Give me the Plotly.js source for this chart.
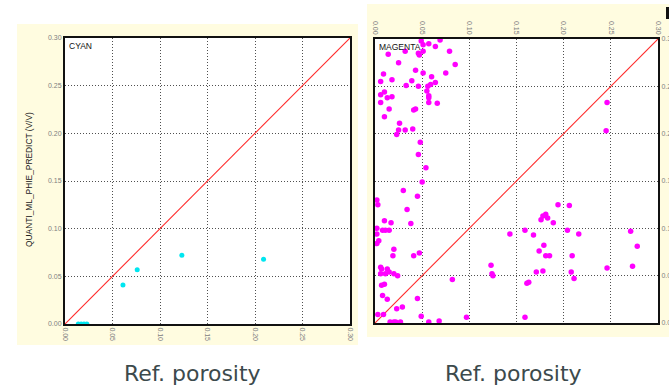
<!DOCTYPE html>
<html>
<head>
<meta charset="utf-8">
<script src="https://cdn.plot.ly/plotly-3.0.1.min.js"></script>
<style>html,body{margin:0;padding:0;background:#fff}#chart{width:669px;height:389px}</style>
</head>
<body>
<div id="chart"></div>
<script>
// ---- data ----
const tickVals = [0, 0.05, 0.10, 0.15, 0.20, 0.25, 0.30];
const tickText = ['0.00', '0.05', '0.10', '0.15', '0.20', '0.25', '0.30'];
const lineX = [0, 0.30];
const lineY = [0, 0.30];

const cyanX = [0.014, 0.017, 0.020, 0.023, 0.061, 0.076, 0.123, 0.209];
const cyanY = [0.000, 0.000, 0.000, 0.000, 0.041, 0.057, 0.072, 0.068];

const magentaX = [0.049, 0.051, 0.057, 0.064, 0.069, 0.079, 0.051, 0.046, 0.047, 0.014,
  0.032, 0.025, 0.085, 0.043, 0.051, 0.075, 0.009, 0.060, 0.018, 0.039,
  0.006, 0.064, 0.059, 0.056, 0.033, 0.046, 0.055, 0.010, 0.006, 0.057,
  0.057, 0.013, 0.018, 0.006, 0.057, 0.066, 0.015, 0.041, 0.043, 0.010,
  0.026, 0.025, 0.032, 0.040, 0.023, 0.048, 0.046, 0.054, 0.050, 0.030,
  0.045, 0.002, 0.003, 0.034, 0.010, 0.017, 0.038, 0.002, 0.008, 0.011,
  0.015, 0.002, 0.004, 0.002, 0.020, 0.019, 0.041, 0.047, 0.006, 0.007,
  0.013, 0.015, 0.006, 0.011, 0.020, 0.024, 0.007, 0.010, 0.082, 0.008,
  0.013, 0.045, 0.029, 0.023, 0.003, 0.009, 0.049, 0.016, 0.020, 0.022,
  0.027, 0.057, 0.068, 0.097, 0.143, 0.123, 0.124, 0.125, 0.194, 0.206,
  0.178, 0.181, 0.183, 0.176, 0.189, 0.159, 0.168, 0.204, 0.216, 0.271,
  0.278, 0.179, 0.174, 0.181, 0.185, 0.209, 0.171, 0.178, 0.208, 0.211,
  0.246, 0.273, 0.161, 0.163, 0.159, 0.246, 0.245];
const magentaY = [0.298, 0.294, 0.295, 0.292, 0.299, 0.287, 0.287, 0.285, 0.283, 0.284,
  0.287, 0.275, 0.273, 0.267, 0.264, 0.264, 0.263, 0.260, 0.257, 0.256,
  0.255, 0.254, 0.252, 0.250, 0.251, 0.250, 0.245, 0.244, 0.241, 0.240,
  0.238, 0.238, 0.239, 0.233, 0.233, 0.232, 0.226, 0.225, 0.226, 0.218,
  0.211, 0.204, 0.204, 0.205, 0.199, 0.191, 0.178, 0.164, 0.149, 0.140,
  0.134, 0.130, 0.125, 0.120, 0.108, 0.106, 0.105, 0.100, 0.098, 0.098,
  0.098, 0.094, 0.087, 0.084, 0.078, 0.071, 0.071, 0.074, 0.059, 0.057,
  0.057, 0.054, 0.052, 0.052, 0.052, 0.050, 0.040, 0.041, 0.046, 0.029,
  0.025, 0.026, 0.017, 0.015, 0.009, 0.009, 0.007, 0.001, 0.001, 0.001,
  0.001, 0.001, 0.002, 0.006, 0.094, 0.061, 0.052, 0.050, 0.125, 0.124,
  0.113, 0.115, 0.111, 0.109, 0.106, 0.098, 0.093, 0.098, 0.094, 0.097,
  0.081, 0.082, 0.076, 0.071, 0.071, 0.071, 0.054, 0.055, 0.054, 0.047,
  0.058, 0.060, 0.042, 0.043, 0.006, 0.233, 0.203];

const panelTitles = ['CYAN', 'MAGENTA'];
const xTitle = 'Ref. porosity';
const yTitle = 'QUANTI_ML_PHIE_PREDICT (V/V)';

// ---- layout helpers (pixel -> paper) ----
const W = 669, H = 389;
const px = v => v / W;
const py = v => 1 - v / H;

const tickFont = {family: 'Liberation Sans, Arial, sans-serif', size: 7, color: '#808080'};
const axisCommon = {
  range: [0, 0.30], tickvals: tickVals, ticktext: tickText,
  showgrid: true, gridcolor: '#505050', griddash: '1px,2px', gridwidth: 1,
  showline: true, linecolor: '#111', linewidth: 2, mirror: true,
  zeroline: false, ticks: '', tickfont: tickFont, fixedrange: true
};

const traces = [
  {x: lineX, y: lineY, xaxis: 'x', yaxis: 'y', mode: 'lines', line: {color: '#ff2a2a', width: 1.1}, hoverinfo: 'skip'},
  {x: cyanX, y: cyanY, xaxis: 'x', yaxis: 'y', mode: 'markers', marker: {color: '#00e6f0', size: 5}},
  {x: lineX, y: lineY, xaxis: 'x2', yaxis: 'y2', mode: 'lines', line: {color: '#ff2a2a', width: 1.1}, hoverinfo: 'skip'},
  {x: magentaX, y: magentaY, xaxis: 'x2', yaxis: 'y2', mode: 'markers', marker: {color: '#ff00ff', size: 5.5}}
];

const labelFont = {family: 'DejaVu Sans, sans-serif', size: 22, color: '#3c4a4c'};
const smallFont = {family: 'Liberation Sans, Arial, sans-serif', size: 8.5, color: '#111'};

const layout = {
  width: W, height: H, showlegend: false,
  margin: {l: 0, r: 0, t: 0, b: 0},
  paper_bgcolor: '#ffffff', plot_bgcolor: '#ffffff',
  xaxis: Object.assign({}, axisCommon, {domain: [px(65), px(350)], anchor: 'y', side: 'bottom', tickangle: 90}),
  yaxis: Object.assign({}, axisCommon, {domain: [py(324), py(38)], anchor: 'x', side: 'left'}),
  xaxis2: Object.assign({}, axisCommon, {domain: [px(375), px(658)], anchor: 'y2', side: 'top', tickangle: 90}),
  yaxis2: Object.assign({}, axisCommon, {domain: [py(323), py(39)], anchor: 'x2', side: 'right'}),
  shapes: [
    {type: 'rect', xref: 'paper', yref: 'paper', x0: px(17), x1: px(358), y0: py(345), y1: py(24), fillcolor: '#fffce0', line: {width: 0}, layer: 'below'},
    {type: 'rect', xref: 'paper', yref: 'paper', x0: px(367), x1: px(669), y0: py(337), y1: py(4), fillcolor: '#fffce0', line: {width: 0}, layer: 'below'},
    {type: 'rect', xref: 'x domain', yref: 'y domain', x0: 0, x1: 1, y0: 0, y1: 1, fillcolor: '#ffffff', line: {width: 0}, layer: 'below'},
    {type: 'rect', xref: 'x2 domain', yref: 'y2 domain', x0: 0, x1: 1, y0: 0, y1: 1, fillcolor: '#ffffff', line: {width: 0}, layer: 'below'},
    {type: 'rect', xref: 'paper', yref: 'paper', x0: px(666), x1: px(669), y0: py(19), y1: py(7), fillcolor: '#111', line: {width: 0}}
  ],
  annotations: [
    {text: panelTitles[0], xref: 'paper', yref: 'paper', x: px(67), y: py(46), xanchor: 'left', yanchor: 'middle', showarrow: false, font: smallFont},
    {text: panelTitles[1], xref: 'paper', yref: 'paper', x: px(377), y: py(47), xanchor: 'left', yanchor: 'middle', showarrow: false, font: smallFont},
    {text: yTitle, xref: 'paper', yref: 'paper', x: px(29), y: py(180), textangle: -90, xanchor: 'center', yanchor: 'middle', showarrow: false, font: {family: 'Liberation Sans, Arial, sans-serif', size: 8.4, color: '#222'}},
    {text: xTitle, xref: 'paper', yref: 'paper', x: px(192), y: py(373), xanchor: 'center', yanchor: 'middle', showarrow: false, font: labelFont},
    {text: xTitle, xref: 'paper', yref: 'paper', x: px(513), y: py(373), xanchor: 'center', yanchor: 'middle', showarrow: false, font: labelFont}
  ]
};

Plotly.newPlot('chart', traces, layout, {staticPlot: true, displayModeBar: false});
</script>
</body>
</html>
